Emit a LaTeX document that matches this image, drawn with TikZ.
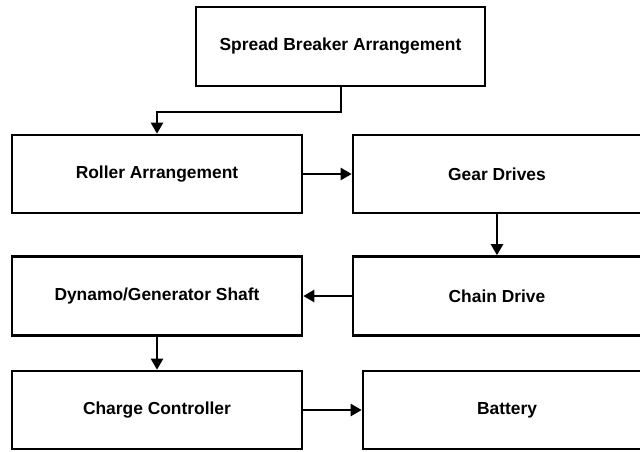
\documentclass[tikz,border=0pt]{standalone}
\usepackage{fontspec}
\setmainfont{Liberation Sans}
\usetikzlibrary{arrows.meta}
\begin{document}
\begin{tikzpicture}[x=1pt,y=-1pt,
  box/.style={draw=black,line width=2.6pt,fill=white,inner sep=0pt,font=\fontsize{17.4}{19}\selectfont\bfseries},
  conn/.style={line width=2.4pt,-{Triangle[length=11pt,width=12pt]}}]
\useasboundingbox (0,0) rectangle (640,451);
\begin{scope}
\clip (0,0) rectangle (640,451);
\node[box,minimum width=289pt,minimum height=79pt] (sba) at (340.5,46.5) {Spread Breaker Arrangement};
\node[box,minimum width=290pt,minimum height=78pt] (ra) at (157,174) {Roller Arrangement};
\node[box,minimum width=288pt,minimum height=78pt] (gd) at (497,174) {Gear Drives};
\node[box,minimum width=290pt,minimum height=79pt] (dg) at (157,296) {Dynamo/Generator Shaft};
\node[box,minimum width=288pt,minimum height=79pt] (cd) at (497,296) {Chain Drive};
\node[box,minimum width=290pt,minimum height=78pt] (cc) at (157,410) {Charge Controller};
\node[box,minimum width=288pt,minimum height=78pt] (bt) at (507,410) {Battery};
\coordinate (k1) at (341,112);
\coordinate (k2) at (157,112);
\draw[conn] (sba.south -| k1) -- (k1) -- (k2) -- (ra.north);
\draw[conn] (ra.east) -- (gd.west);
\draw[conn] (gd.south) -- (cd.north);
\draw[conn] (cd.west) -- (dg.east);
\draw[conn] (dg.south) -- (cc.north);
\draw[conn] (cc.east) -- (bt.west |- cc.east);
\end{scope}
\end{tikzpicture}
\end{document}
